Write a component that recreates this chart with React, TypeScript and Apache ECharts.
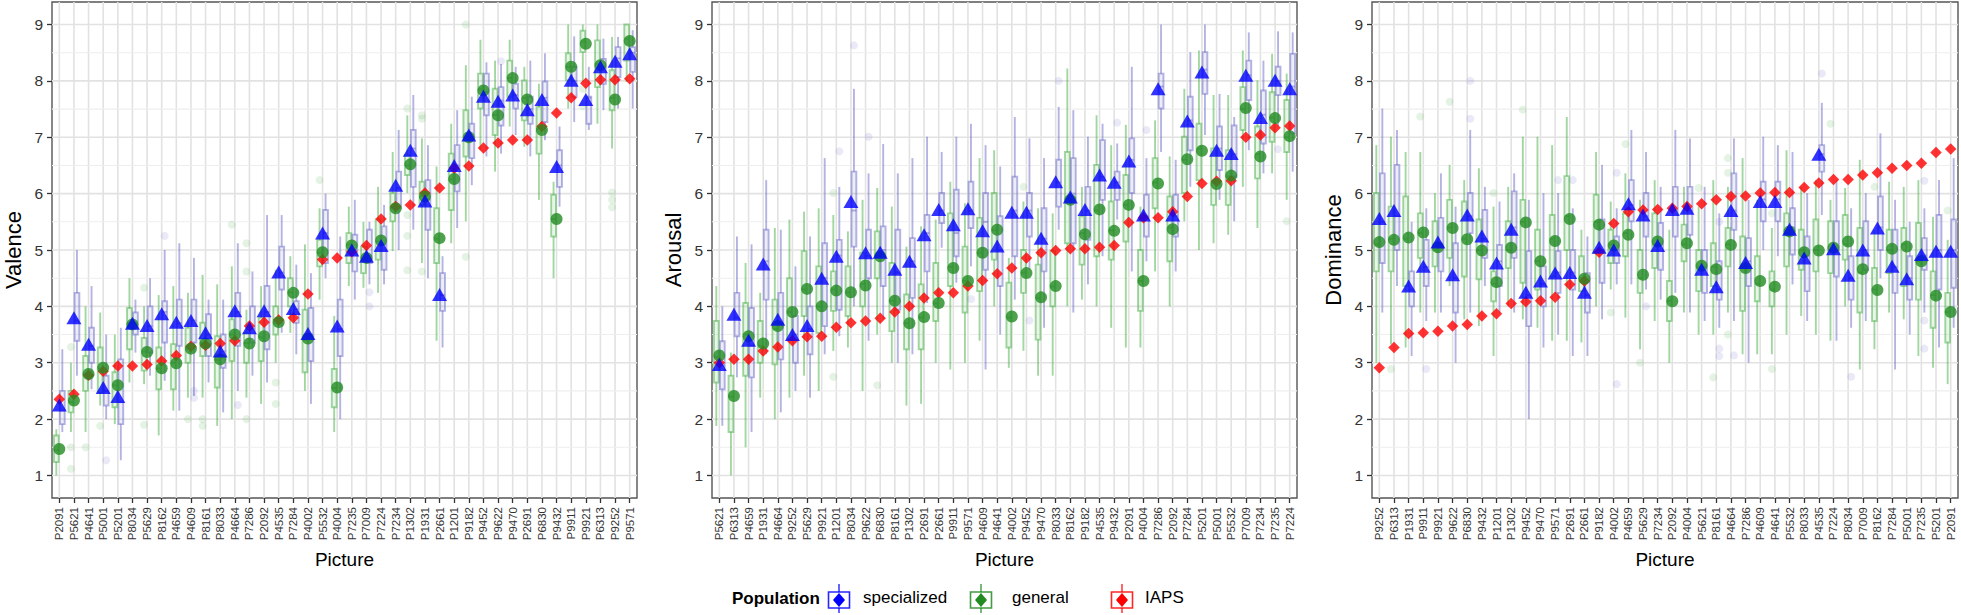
import React, { useEffect, useRef } from 'react';
import * as echarts from 'echarts';

// ---------- tick values ----------
const yTicks = [1, 2, 3, 4, 5, 6, 7, 8, 9];
const yMinorTicks = [1.5, 2.5, 3.5, 4.5, 5.5, 6.5, 7.5, 8.5];

// ---------- Valence ----------
const catsV = ['P2091','P5621','P4641','P5001','P5201','P8034','P5629','P8162','P4659','P4609','P8161','P8033','P4664','P7286','P2092','P4535','P7284','P4002','P5532','P4004','P7235','P7009','P7224','P7234','P1302','P1931','P2661','P1201','P9182','P9452','P9622','P9470','P2691','P6830','P9432','P9911','P9921','P6313','P9252','P9571'];
const specMeanV = [2.25,3.80,3.33,2.56,2.40,3.70,3.66,3.87,3.72,3.75,3.53,3.21,3.92,3.62,3.92,4.61,3.96,3.52,5.30,3.65,5.00,4.89,5.08,6.15,6.77,5.87,4.21,6.50,7.04,7.73,7.64,7.75,7.49,7.67,6.48,8.01,7.67,8.25,8.35,8.48];
const genMeanV = [1.47,2.33,2.80,2.91,2.60,3.68,3.19,2.90,2.99,3.25,3.34,3.06,3.50,3.34,3.47,3.72,4.24,3.43,4.96,2.56,5.08,4.86,5.17,5.74,6.52,5.95,5.21,6.26,7.00,7.83,7.39,8.05,7.67,7.13,5.55,8.25,8.66,8.28,7.67,8.71];
const iapsV = [2.35,2.44,2.78,2.85,2.94,2.94,2.97,3.03,3.13,3.29,3.31,3.34,3.39,3.65,3.72,3.76,3.80,4.22,4.83,4.86,4.97,5.08,5.55,5.77,5.80,6.01,6.10,6.45,6.49,6.81,6.90,6.95,6.95,7.19,7.43,7.70,7.96,8.02,8.02,8.04];
const specBoxV = [
  [1.77,1.91,2.15,2.50,3.24],[2.77,3.39,3.75,4.24,5.00],[2.53,3.00,3.30,3.62,4.36],[2.00,2.24,2.50,2.77,3.50],[1.27,1.91,2.30,3.06,3.62],
  [3.18,3.50,3.70,3.89,4.12],[2.77,3.18,3.65,4.00,4.50],[2.68,3.36,3.90,4.09,5.00],[2.15,3.30,3.70,4.12,5.12],[2.41,3.36,3.75,4.12,4.86],
  [2.65,3.12,3.50,3.86,4.12],[2.12,2.91,3.20,3.50,4.12],[2.50,3.30,3.90,4.24,5.12],[2.77,3.36,3.60,4.00,4.62],[2.65,3.24,3.90,4.36,5.62],
  [3.53,4.30,4.60,5.06,5.62],[3.15,3.71,3.95,4.09,4.74],[2.27,3.03,3.50,3.97,4.59],[4.50,4.77,5.30,5.71,6.00],[2.00,3.12,3.60,4.12,5.24],
  [4.12,4.62,5.00,5.27,5.89],[4.39,4.77,4.90,5.36,5.50],[4.39,4.65,5.10,5.42,5.80],[5.00,5.74,6.10,6.39,7.13],[5.36,6.12,6.80,7.13,7.75],
  [4.50,5.36,5.90,6.24,6.86],[3.27,3.92,4.20,4.59,4.89],[5.39,6.04,6.50,6.86,7.48],[6.15,6.63,7.00,7.24,7.72],[6.66,7.39,7.80,8.13,8.33],
  [6.71,7.21,7.65,7.89,8.30],[7.04,7.51,7.75,7.95,8.25],[6.66,7.24,7.50,7.72,8.36],[6.95,7.27,7.70,7.99,8.49],[5.77,6.12,6.50,6.77,7.19],
  [7.27,7.72,8.00,8.25,8.79],[7.13,7.24,7.70,7.72,8.25],[7.48,7.95,8.25,8.39,8.75],[7.51,8.07,8.40,8.60,8.78],[7.51,8.16,8.50,8.60,8.90]
];
const genBoxV = [
  [1.00,1.24,1.45,1.71,1.82],[1.77,2.12,2.30,2.50,3.00],[1.77,2.50,2.80,3.12,4.00],[2.24,2.47,2.90,3.27,3.89],[1.91,2.21,2.60,2.83,3.50],
  [2.65,3.24,3.70,3.97,4.50],[2.62,2.86,3.20,3.44,4.00],[1.71,2.53,2.90,3.27,4.20],[2.15,2.53,3.00,3.33,4.36],[2.38,3.00,3.25,3.62,4.24],
  [2.38,3.12,3.35,3.71,4.56],[1.88,2.56,3.05,3.47,4.39],[2.00,3.03,3.50,3.77,4.71],[2.38,3.00,3.35,3.53,3.94],[2.27,3.03,3.45,3.80,4.36],
  [3.00,3.50,3.70,4.00,4.65],[3.53,4.00,4.25,4.50,4.89],[2.50,2.83,3.40,3.94,5.10],[4.12,4.71,4.95,5.18,5.74],[1.77,2.21,2.55,2.89,3.83],
  [4.36,4.77,5.10,5.30,5.77],[4.33,4.59,4.85,5.06,5.50],[4.24,4.83,5.15,5.54,6.12],[4.98,5.51,5.75,6.01,6.74],[6.01,6.33,6.50,6.68,7.39],
  [4.77,5.80,5.95,6.21,6.98],[3.39,4.77,5.20,5.74,6.48],[5.12,5.71,6.25,6.71,7.24],[5.51,6.66,7.00,7.48,8.28],[6.77,7.51,7.85,8.13,8.73],
  [6.39,7.04,7.40,7.86,8.36],[7.19,7.72,8.05,8.36,8.73],[6.83,7.30,7.70,8.01,8.25],[5.89,6.71,7.15,7.54,7.95],[4.50,5.24,5.55,5.98,6.21],
  [7.51,8.01,8.25,8.49,9.00],[7.98,8.51,8.70,8.89,9.00],[7.24,7.89,8.30,8.72,9.00],[6.80,7.48,7.70,8.19,8.78],[7.98,8.36,8.75,9.00,9.00]
];
const specOutV = [['P5001',1.27],['P8162',5.25],['P4609',2.50],['P4609',2.38],['P4664',2.25],['P7009',4.25],['P7009',4.00],['P9622',8.35]];
const genOutV = [['P5621',1.50],['P5621',1.12],['P5621',3.28],['P4641',1.50],['P5001',1.88],['P5629',4.33],['P5629',1.90],['P4609',2.00],['P8161',2.00],['P8161',1.88],['P4664',5.45],['P7286',5.12],['P7286',4.62],['P7286',2.00],['P4535',2.65],['P4535',2.27],['P5532',6.24],['P1302',7.51],['P1302',5.62],['P1302',5.25],['P1302',4.64],['P1931',7.39],['P1931',7.33],['P1931',4.62],['P9182',9.00],['P9182',4.88],['P9921',7.86],['P9921',7.55],['P9252',6.02],['P9252',5.89],['P9252',5.76]];

// ---------- Arousal ----------
const catsA = ['P5621','P6313','P4659','P1931','P4664','P9252','P5629','P9921','P1201','P8034','P9622','P6830','P8161','P1302','P2691','P2661','P9911','P9571','P4609','P4641','P4002','P9452','P9470','P8033','P8162','P9182','P4535','P9432','P2091','P4004','P7286','P2092','P7284','P5201','P5001','P5532','P7009','P7234','P7235','P7224'];
const specMeanA = [2.97,3.86,3.40,4.75,3.77,3.50,3.66,4.50,4.89,5.86,4.95,4.96,4.66,4.80,5.27,5.72,5.45,5.73,5.34,5.07,5.67,5.67,5.21,6.21,5.94,5.72,6.33,6.20,6.58,5.62,7.86,5.62,7.29,8.16,6.77,6.71,8.10,7.35,8.01,7.86];
const genMeanA = [3.13,2.41,3.47,3.34,3.65,3.90,4.31,4.00,4.28,4.25,4.37,4.89,4.10,3.70,3.81,4.06,4.68,4.45,4.95,5.36,3.82,4.59,4.16,4.36,5.89,5.28,5.72,5.34,5.80,4.45,6.18,5.37,6.61,6.76,6.17,6.32,7.52,6.66,7.34,7.02];
const iapsA = [3.00,3.06,3.06,3.21,3.28,3.39,3.46,3.47,3.63,3.71,3.74,3.79,3.90,4.00,4.15,4.24,4.24,4.36,4.46,4.58,4.68,4.86,4.95,4.99,5.02,5.02,5.05,5.08,5.49,5.57,5.57,5.68,5.95,6.18,6.22,6.23,7.00,7.04,7.17,7.20];
const specBoxA = [
  [1.88,2.53,2.95,3.38,4.00],[2.74,3.47,3.80,4.24,5.24],[1.77,2.74,3.30,3.97,5.10],[3.15,4.12,4.80,5.36,6.24],[2.12,3.06,3.70,4.24,5.36],
  [2.50,3.00,3.50,3.83,4.71],[2.38,3.15,3.60,4.00,5.24],[3.15,3.65,4.50,5.12,6.63],[3.47,3.94,4.90,5.18,6.12],[4.00,5.06,5.70,6.39,7.86],
  [3.39,4.50,4.90,5.36,6.36],[3.77,4.36,5.00,5.42,6.88],[3.00,3.94,4.60,5.36,6.36],[3.15,4.15,4.80,5.21,6.63],[4.06,4.62,5.30,5.62,7.01],
  [5.04,5.48,5.70,6.01,6.74],[4.42,4.89,5.30,6.07,7.01],[4.71,5.39,5.70,6.21,7.24],[2.88,4.65,5.50,6.01,6.86],[3.50,4.36,5.00,5.60,6.48],
  [4.12,4.89,5.70,6.30,7.36],[4.65,5.24,5.70,6.01,6.98],[3.62,4.62,5.20,5.74,6.63],[5.36,5.77,6.20,6.60,7.54],[3.89,5.12,6.00,6.63,7.48],
  [4.39,5.18,5.70,6.12,7.01],[4.89,5.89,6.30,6.95,7.24],[5.54,5.89,6.20,6.39,6.89],[4.62,6.01,6.60,6.98,8.25],[4.80,5.24,5.60,5.98,6.63],
  [6.74,7.51,7.90,8.13,9.00],[4.62,5.24,5.60,5.98,6.60],[6.12,6.77,7.30,7.72,8.51],[7.04,7.77,8.20,8.51,9.00],[5.89,6.42,6.80,7.19,7.77],
  [5.51,6.30,6.70,7.21,7.36],[6.77,7.66,8.10,8.36,8.86],[6.36,6.89,7.40,7.83,8.36],[7.19,7.75,8.00,8.25,8.88],[6.39,7.07,7.90,8.48,8.86]
];
const genBoxA = [
  [1.88,2.65,3.10,3.74,4.36],[1.00,1.77,2.40,2.77,3.18],[1.50,2.77,3.50,4.06,4.77],[2.38,3.00,3.30,3.74,4.24],[2.00,2.97,3.60,4.12,5.39],
  [2.38,3.41,3.90,4.50,5.54],[2.77,3.83,4.30,4.98,5.68],[2.50,3.53,4.00,4.71,5.74],[3.21,3.92,4.30,4.62,5.62],[3.27,3.83,4.25,4.71,5.33],
  [2.50,4.00,4.40,4.95,5.89],[3.50,4.50,4.90,5.33,6.10],[3.00,3.56,4.10,4.77,5.77],[2.24,3.24,3.70,4.21,5.06],[2.27,3.24,3.80,4.39,5.42],
  [3.00,3.74,4.05,4.77,5.54],[2.88,4.36,4.70,5.65,6.21],[3.00,3.89,4.45,5.06,5.83],[3.39,4.27,4.95,5.57,6.63],[4.00,4.83,5.35,6.01,6.77],
  [2.91,3.27,3.80,4.42,4.86],[3.21,4.24,4.60,5.00,5.86],[2.77,3.41,4.15,4.74,5.74],[2.77,4.00,4.35,4.98,5.65],[4.00,5.12,5.90,6.74,8.22],
  [4.12,4.74,5.30,5.60,6.12],[4.00,4.89,5.70,6.51,7.39],[3.62,4.83,5.35,5.86,6.86],[3.27,5.15,5.80,6.33,7.22],[3.27,3.92,4.45,5.00,5.77],
  [4.62,5.74,6.20,6.63,7.30],[4.00,4.80,5.40,5.95,6.66],[5.51,6.01,6.60,7.01,7.86],[5.00,6.24,6.80,7.24,8.54],[5.12,5.80,6.20,6.80,7.75],
  [5.27,5.80,6.30,6.77,7.75],[6.12,7.13,7.50,7.89,8.54],[5.39,6.27,6.70,7.19,8.01],[6.36,6.92,7.35,7.80,8.48],[5.89,6.74,7.00,7.66,8.13]
];
const specOutA = [['P1201',6.75],['P8034',8.63],['P9622',7.01],['P9571',4.13],['P9452',3.75],['P8033',8.00],['P9432',7.26],['P4004',7.13],['P7235',6.79]];
const genOutA = [['P1201',6.01],['P1201',2.75],['P6830',2.60],['P9452',6.12],['P7224',5.51]];

// ---------- Dominance ----------
const catsD = ['P9252','P6313','P1931','P9911','P9921','P9622','P6830','P9432','P1201','P1302','P9452','P9470','P9571','P2691','P2661','P9182','P4002','P4659','P5629','P7234','P2092','P4004','P5621','P8161','P4664','P7286','P4609','P4641','P5532','P8033','P4535','P7224','P8034','P7009','P8162','P7284','P5001','P7235','P5201','P2091'];
const specMeanD = [5.56,5.70,4.36,4.71,5.14,4.56,5.62,5.25,4.77,5.37,4.25,4.45,4.59,4.60,4.25,5.05,5.00,5.82,5.62,5.08,5.72,5.74,4.66,4.35,5.70,4.78,5.86,5.86,5.37,4.86,6.70,5.02,4.55,5.00,5.39,4.71,4.49,4.92,4.98,4.98];
const genMeanD = [5.14,5.18,5.22,5.31,5.05,5.39,5.19,4.99,4.43,5.04,5.49,4.80,5.16,5.55,4.49,5.45,5.08,5.27,4.56,5.15,4.09,5.12,4.72,4.66,5.09,4.68,4.45,4.35,5.33,4.96,4.99,5.04,5.15,4.66,4.29,5.02,5.06,4.80,4.19,3.90];
const iapsD = [2.91,3.27,3.52,3.53,3.56,3.65,3.68,3.83,3.87,4.05,4.08,4.10,4.16,4.39,4.45,4.96,5.47,5.68,5.71,5.72,5.74,5.77,5.82,5.89,5.95,5.96,6.01,6.02,6.02,6.11,6.19,6.25,6.25,6.33,6.37,6.45,6.50,6.54,6.73,6.79];
const specBoxD = [
  [3.89,4.77,5.50,6.36,7.51],[4.36,5.00,5.60,6.51,7.13],[3.12,4.00,4.30,4.62,5.50],[3.74,4.36,4.70,5.18,5.74],[3.89,4.62,5.10,5.57,6.36],
  [3.00,3.89,4.50,5.12,5.77],[3.89,5.30,5.60,6.01,7.13],[4.36,4.86,5.20,5.71,6.12],[3.89,4.36,4.80,5.09,5.86],[3.89,4.86,5.40,6.04,6.36],
  [2.00,3.65,4.20,4.98,5.89],[3.27,4.00,4.40,4.71,6.01],[3.50,4.24,4.60,4.98,6.01],[3.12,4.30,4.60,5.00,5.74],[3.12,3.89,4.20,4.59,5.24],
  [3.77,4.42,5.00,5.54,6.51],[4.39,4.77,5.00,5.24,5.74],[4.39,5.51,5.80,6.24,7.13],[4.30,5.24,5.60,6.01,6.74],[4.12,4.65,5.10,5.48,6.12],
  [4.24,5.24,5.70,6.12,7.13],[3.89,5.27,5.70,6.12,6.98],[3.74,4.24,4.70,5.00,6.12],[3.62,4.12,4.30,4.80,5.65],[3.74,5.36,5.70,6.36,6.98],
  [3.00,4.36,4.80,5.21,5.89],[5.00,5.51,5.90,6.21,7.01],[4.89,5.51,5.90,6.21,6.86],[4.39,4.92,5.40,5.74,6.74],[3.74,4.27,4.90,5.24,6.01],
  [5.62,6.39,6.70,6.86,7.61],[3.39,4.53,5.00,5.51,6.24],[3.62,4.12,4.50,4.89,5.74],[3.74,4.65,5.00,5.51,6.01],[4.50,5.00,5.40,5.95,7.07],
  [2.88,4.24,4.70,5.36,5.89],[3.50,4.12,4.50,4.89,5.50],[3.89,4.65,4.90,5.21,5.74],[3.27,4.30,5.00,5.62,6.24],[3.62,4.33,5.00,5.54,6.63]
];
const genBoxD = [
  [3.00,4.62,5.10,6.01,6.86],[3.33,4.62,5.20,5.77,7.01],[3.27,4.36,5.20,5.95,6.74],[3.89,4.86,5.30,5.65,6.74],[3.89,4.71,5.00,5.51,6.01],
  [4.36,4.86,5.40,5.89,6.51],[3.77,4.53,5.20,5.86,6.24],[3.65,4.48,5.00,5.54,6.45],[3.12,4.09,4.40,4.62,5.77],[4.00,4.68,5.00,5.51,6.12],
  [3.77,4.42,5.50,5.89,7.01],[3.62,4.30,4.80,5.36,7.01],[3.39,4.53,5.20,5.62,6.86],[3.39,5.00,5.60,6.31,7.36],[3.36,4.27,4.50,4.89,5.36],
  [4.00,4.95,5.50,5.98,6.74],[4.30,4.77,5.10,5.36,5.86],[3.80,4.89,5.30,5.65,6.36],[3.24,4.24,4.50,5.00,5.89],[3.74,4.68,5.10,5.65,6.24],
  [3.00,3.74,4.10,4.45,5.36],[3.89,4.80,5.10,5.45,6.12],[3.50,4.27,4.70,5.00,5.77],[3.50,4.36,4.70,5.12,6.24],[3.89,4.71,5.10,5.39,6.12],
  [3.15,3.92,4.70,5.24,6.63],[3.15,4.09,4.40,4.89,5.89],[3.15,4.00,4.30,4.62,5.39],[3.50,4.71,5.30,5.65,6.77],[3.83,4.65,5.00,5.36,6.12],
  [3.50,4.62,5.00,5.54,6.24],[3.39,4.59,5.00,5.51,5.89],[4.00,4.83,5.10,5.62,6.10],[2.88,3.89,4.60,5.39,6.60],[3.24,3.74,4.30,4.68,5.36],
  [3.89,4.59,5.00,5.36,6.21],[3.77,4.36,5.10,5.39,6.12],[3.12,4.12,4.80,5.48,6.24],[2.91,3.62,4.20,4.62,5.59],[2.62,3.36,3.90,4.24,5.18]
];
const specOutD = [['P9911',2.89],['P6830',8.00],['P6830',7.33],['P9571',6.24],['P2691',6.24],['P4002',6.37],['P4002',2.62],['P5629',4.00],['P8161',5.50],['P8161',3.25],['P8161',3.12],['P4664',3.13],['P4535',8.13],['P8034',2.75],['P7235',6.23],['P7235',3.75],['P7235',3.25]];
const genOutD = [['P6313',2.89],['P9911',7.37],['P9622',7.63],['P9452',7.49],['P1201',6.01],['P4002',3.89],['P4659',6.88],['P5629',3.00],['P5621',6.10],['P8161',2.74],['P4664',6.63],['P4664',6.37],['P4664',3.50],['P4641',5.65],['P4641',2.89],['P7224',7.24],['P8162',6.12],['P2091',5.70]];

// ---------- legend ----------
const legendTitle = 'Population';
const legendLabels = ['specialized', 'general', 'IAPS'];

// ---------- styling ----------
const FONT = 'Liberation Sans, Arial, Helvetica, sans-serif';
const BLUE = '#0000FF';
const GREEN = '#228B22';
const RED = '#FF0000';
const legendColors = [BLUE, GREEN, RED];

const panels = [
  { name: 'Valence', cats: catsV, spec: specMeanV, gen: genMeanV, iaps: iapsV, specBox: specBoxV, genBox: genBoxV, specOut: specOutV, genOut: genOutV },
  { name: 'Arousal', cats: catsA, spec: specMeanA, gen: genMeanA, iaps: iapsA, specBox: specBoxA, genBox: genBoxA, specOut: specOutA, genOut: genOutA },
  { name: 'Dominance', cats: catsD, spec: specMeanD, gen: genMeanD, iaps: iapsD, specBox: specBoxD, genBox: genBoxD, specOut: specOutD, genOut: genOutD },
];

const gridLayout = [
  { left: 52, top: 2, width: 585, height: 496 },
  { left: 712, top: 2, width: 585, height: 496 },
  { left: 1372, top: 2, width: 586, height: 496 },
];

// box renderer (ggplot-like: no whisker caps)
function makeBoxRenderer(offset: number, stroke: string, fill: string) {
  return (params: any, api: any) => {
    const idx = api.value(0);
    const cx = api.coord([idx, 5])[0] + offset;
    const yMin = api.coord([idx, api.value(1)])[1];
    const yQ1 = api.coord([idx, api.value(2)])[1];
    const yMed = api.coord([idx, api.value(3)])[1];
    const yQ3 = api.coord([idx, api.value(4)])[1];
    const yMax = api.coord([idx, api.value(5)])[1];
    const hw = 2.4;
    const lineStyle = { stroke, lineWidth: 1.9 };
    return {
      type: 'group',
      children: [
        { type: 'line', shape: { x1: cx, y1: yMin, x2: cx, y2: yQ1 }, style: lineStyle },
        { type: 'line', shape: { x1: cx, y1: yQ3, x2: cx, y2: yMax }, style: lineStyle },
        { type: 'rect', shape: { x: cx - hw, y: yQ3, width: hw * 2, height: yQ1 - yQ3 }, style: { fill, stroke, lineWidth: 1.9 } },
        { type: 'line', shape: { x1: cx - hw, y1: yMed, x2: cx + hw, y2: yMed }, style: lineStyle },
      ],
    };
  };
}

function buildOption() {
  const grid: any[] = [];
  const xAxis: any[] = [];
  const yAxis: any[] = [];
  const series: any[] = [];

  panels.forEach((p, i) => {
    grid.push({
      ...gridLayout[i],
      show: true,
      backgroundColor: '#ffffff',
      borderColor: '#555555',
      borderWidth: 1.4,
    });
    xAxis.push({
      type: 'category',
      gridIndex: i,
      data: p.cats,
      boundaryGap: true,
      axisLine: { show: false },
      axisTick: { show: true, alignWithLabel: true, interval: 0, length: 5, lineStyle: { color: '#333', width: 1.3 } },
      axisLabel: { interval: 0, rotate: 90, fontSize: 11.5, color: '#333', fontFamily: FONT, margin: 9 },
      splitLine: { show: false },
      name: 'Picture',
      nameLocation: 'middle',
      nameGap: 52,
      nameTextStyle: { fontSize: 19, color: '#000', fontFamily: FONT },
    });
    yAxis.push({
      type: 'value',
      gridIndex: i,
      min: 0.6,
      max: 9.4,
      axisLine: { show: false },
      axisTick: { show: true, length: 5, customValues: yTicks, lineStyle: { color: '#333', width: 1.3 } },
      axisLabel: { customValues: yTicks, fontSize: 15.5, color: '#333', fontFamily: FONT, margin: 9 },
      splitLine: { show: false },
      name: p.name,
      nameLocation: 'middle',
      nameGap: 28,
      nameTextStyle: { fontSize: 22, color: '#000', fontFamily: FONT },
    });

    // grid lines (vertical at categories, horizontal major/minor)
    const gridLineData: any[] = [];
    p.cats.forEach((_, j) => gridLineData.push([j, yTicks[0], 0]));
    yTicks.forEach((v) => gridLineData.push([0, v, 1]));
    yMinorTicks.forEach((v) => gridLineData.push([0, v, 2]));
    series.push({
      type: 'custom',
      xAxisIndex: i,
      yAxisIndex: i,
      silent: true,
      z: 0,
      data: gridLineData,
      renderItem: (params: any, api: any) => {
        const cs = params.coordSys;
        const kind = api.value(2);
        if (kind === 0) {
          const x = api.coord([api.value(0), 5])[0];
          return { type: 'line', shape: { x1: x, y1: cs.y, x2: x, y2: cs.y + cs.height }, style: { stroke: '#e2e2e2', lineWidth: 1.6 } };
        }
        const y = api.coord([0, api.value(1)])[1];
        return {
          type: 'line',
          shape: { x1: cs.x, y1: y, x2: cs.x + cs.width, y2: y },
          style: { stroke: kind === 1 ? '#e2e2e2' : '#eeeeee', lineWidth: kind === 1 ? 1.6 : 1.1 },
        };
      },
    });

    series.push({
      type: 'custom',
      name: 'general',
      xAxisIndex: i,
      yAxisIndex: i,
      silent: true,
      z: 2,
      data: p.genBox.map((b, j) => [j, ...b]),
      encode: { x: 0, y: [1, 2, 3, 4, 5] },
      renderItem: makeBoxRenderer(-3, 'rgba(70,175,70,0.5)', 'rgba(70,175,70,0.12)'),
    });
    series.push({
      type: 'custom',
      name: 'specialized',
      xAxisIndex: i,
      yAxisIndex: i,
      silent: true,
      z: 2,
      data: p.specBox.map((b, j) => [j, ...b]),
      encode: { x: 0, y: [1, 2, 3, 4, 5] },
      renderItem: makeBoxRenderer(3, 'rgba(105,105,200,0.5)', 'rgba(105,105,200,0.12)'),
    });
    series.push({
      type: 'scatter',
      xAxisIndex: i,
      yAxisIndex: i,
      data: p.genOut,
      symbol: 'circle',
      symbolSize: 8,
      symbolOffset: [-3, 0],
      silent: true,
      z: 3,
      itemStyle: { color: 'rgba(70,175,70,0.18)' },
    });
    series.push({
      type: 'scatter',
      xAxisIndex: i,
      yAxisIndex: i,
      data: p.specOut,
      symbol: 'circle',
      symbolSize: 8,
      symbolOffset: [3, 0],
      silent: true,
      z: 3,
      itemStyle: { color: 'rgba(105,105,200,0.18)' },
    });
    series.push({
      type: 'scatter',
      name: 'IAPS',
      xAxisIndex: i,
      yAxisIndex: i,
      data: p.iaps,
      symbol: 'diamond',
      symbolSize: 11.5,
      silent: true,
      z: 4,
      itemStyle: { color: RED },
    });
    series.push({
      type: 'scatter',
      name: 'general',
      xAxisIndex: i,
      yAxisIndex: i,
      data: p.gen,
      symbol: 'circle',
      symbolSize: 12,
      silent: true,
      z: 5,
      itemStyle: { color: GREEN },
    });
    series.push({
      type: 'scatter',
      name: 'specialized',
      xAxisIndex: i,
      yAxisIndex: i,
      data: p.spec,
      symbol: 'triangle',
      symbolSize: [15, 13],
      silent: true,
      z: 6,
      itemStyle: { color: BLUE },
    });
  });

  // legend drawn as graphic
  const keyX = [839, 981, 1122];
  const textX = [863, 1012, 1145];
  const ly = 600;
  const graphic: any[] = [
    {
      type: 'text',
      left: 732,
      top: ly - 10,
      style: { text: legendTitle, font: `bold 17px ${FONT}`, fill: '#000' },
    },
  ];
  legendLabels.forEach((label, k) => {
    const cx = keyX[k];
    const col = legendColors[k];
    graphic.push({
      type: 'line',
      shape: { x1: cx, y1: ly - 16, x2: cx, y2: ly + 13 },
      style: { stroke: col, lineWidth: 1.5, opacity: 0.8 },
    });
    graphic.push({
      type: 'rect',
      shape: { x: cx - 10.5, y: ly - 8, width: 21, height: 16 },
      style: { fill: '#fff', stroke: col, lineWidth: 1.6, opacity: 0.85 },
    });
    graphic.push({
      type: 'polygon',
      shape: { points: [[cx, ly - 7], [cx + 6, ly], [cx, ly + 7], [cx - 6, ly]] },
      style: { fill: col },
    });
    graphic.push({
      type: 'text',
      left: textX[k],
      top: ly - 11,
      style: { text: label, font: `17px ${FONT}`, fill: '#000' },
    });
  });

  return {
    animation: false,
    backgroundColor: '#ffffff',
    textStyle: { fontFamily: FONT },
    grid,
    xAxis,
    yAxis,
    series,
    graphic,
  };
}

export default function App() {
  const ref = useRef<HTMLDivElement>(null);
  useEffect(() => {
    document.body.style.margin = '0';
    if (!ref.current) return;
    const chart = echarts.init(ref.current, undefined, { renderer: 'svg' });
    chart.setOption(buildOption() as any);
    return () => chart.dispose();
  }, []);
  return <div ref={ref} style={{ width: 1961, height: 615 }} />;
}
